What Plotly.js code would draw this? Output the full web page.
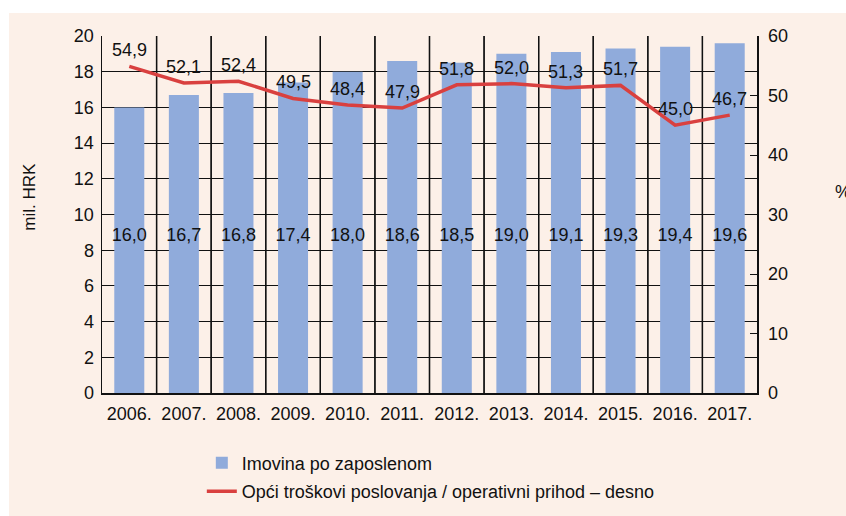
<!DOCTYPE html>
<html>
<head>
<meta charset="utf-8">
<script src="https://cdn.plot.ly/plotly-3.0.1.min.js"></script>
<style>
html,body{margin:0;padding:0;background:#ffffff;}
#chart{position:absolute;left:9px;top:13px;width:837px;height:503px;}
</style>
</head>
<body>
<div id="chart"></div>
<script>
const years = ["2006.","2007.","2008.","2009.","2010.","2011.","2012.","2013.","2014.","2015.","2016.","2017."];
const assetsPerEmployee = [16.0,16.7,16.8,17.4,18.0,18.6,18.5,19.0,19.1,19.3,19.4,19.6];
const costRatio = [54.9,52.1,52.4,49.5,48.4,47.9,51.8,52.0,51.3,51.7,45.0,46.7];
const barName = "Imovina po zaposlenom";
const lineName = "Opći troškovi poslovanja / operativni prihod – desno";
const leftTitle = "mil. HRK";
const rightTitle = "%";

const FONT = '"Liberation Sans", Arial, sans-serif';
const BG = '#fcf0e8';
const INK = '#111111';
const fmt = v => v.toFixed(1).replace('.', ',');
const BAR_LABEL_Y = 8.75;
const LEFT_RANGE = [0, 20];
const idx = years.map((_, i) => i);
// interior category boundaries (vertical grid between the years)
const boundaries = years.slice(1).map((_, i) => i + 0.5);
const xRange = [-0.5, years.length - 0.5];
const gridX = [], gridY = [];
boundaries.forEach(b => { gridX.push(b, b, null); gridY.push(LEFT_RANGE[0], LEFT_RANGE[1], null); });

const traces = [
  {
    type: 'scatter', mode: 'lines', x: gridX, y: gridY, connectgaps: false,
    line: {color: INK, width: 1.3}, showlegend: false, hoverinfo: 'skip',
    xaxis: 'x', yaxis: 'y', cliponaxis: false
  },
  {
    type: 'bar', x: idx, y: assetsPerEmployee, name: barName, legendgroup: 'a',
    marker: {color: '#90abdb'}, width: 0.55, xaxis: 'x', yaxis: 'y'
  },
  {
    type: 'scatter', mode: 'text', x: idx,
    y: years.map(() => BAR_LABEL_Y),
    text: assetsPerEmployee.map(fmt), textposition: 'middle center',
    textfont: {family: FONT, size: 18, color: INK},
    showlegend: false, hoverinfo: 'skip', xaxis: 'x', yaxis: 'y'
  },
  {
    type: 'scatter', mode: 'lines', x: idx, y: costRatio, name: lineName, legendgroup: 'b',
    line: {color: '#d9403f', width: 3.5}, xaxis: 'x', yaxis: 'y2'
  }
];

const annotations = costRatio.map((v, i) => ({
  x: idx[i], y: v, xref: 'x', yref: 'y2', text: fmt(v),
  xanchor: 'center', yanchor: 'middle',
  showarrow: false, yshift: 16,
  font: {family: FONT, size: 18, color: INK}
}));
annotations.push({
  xref: 'paper', yref: 'paper', x: -0.112, y: 0.549, xanchor: 'center', yanchor: 'middle',
  text: leftTitle, textangle: -90, showarrow: false,
  font: {family: FONT, size: 17, color: INK}
});
annotations.push({
  xref: 'paper', yref: 'paper', x: 1.116, y: 0.563, xanchor: 'left', yanchor: 'middle',
  text: rightTitle, showarrow: false, font: {family: FONT, size: 18, color: INK}
});

const shapes = boundaries.map(b => ({
  type: 'line', xref: 'x', yref: 'y', x0: b, x1: b, y0: LEFT_RANGE[0], y1: LEFT_RANGE[1],
  layer: 'between', line: {color: INK, width: 1.3}
}));

const layout = {
  width: 837, height: 503,
  margin: {l: 93, r: 89, t: 23, b: 123, autoexpand: false},
  paper_bgcolor: BG, plot_bgcolor: BG,
  font: {family: FONT, size: 18, color: INK},
  barmode: 'overlay',
  xaxis: {
    range: xRange, tickmode: 'array', tickvals: idx, ticktext: years,
    showgrid: false, showline: true, linecolor: INK, linewidth: 1.5, ticks: '',
    ticklabelstandoff: 4, zeroline: false,
    tickfont: {family: FONT, size: 18, color: INK}
  },
  yaxis: {
    range: LEFT_RANGE, dtick: 2, showgrid: true, gridcolor: INK, gridwidth: 1,
    showline: true, linecolor: INK, linewidth: 1.5, ticks: '', zeroline: false,
    ticklabelstandoff: 3, tickfont: {family: FONT, size: 18, color: INK}
  },
  yaxis2: {
    overlaying: 'y', side: 'right', range: [0, 60], dtick: 10, showgrid: false,
    showline: true, linecolor: INK, linewidth: 1.5, ticks: 'inside', ticklen: 7,
    tickcolor: INK, zeroline: false, ticklabelstandoff: 6,
    tickfont: {family: FONT, size: 18, color: INK}
  },
  legend: {
    orientation: 'v', x: 0.1524, xanchor: 'left', yref: 'container', y: 0.142, yanchor: 'top',
    bgcolor: 'rgba(0,0,0,0)', font: {family: FONT, size: 18, color: INK},
    traceorder: 'grouped', tracegroupgap: 2
  },
  shapes: shapes,
  annotations: annotations,
  showlegend: true
};

Plotly.newPlot('chart', traces, layout, {displayModeBar: false, staticPlot: true});
</script>
</body>
</html>
